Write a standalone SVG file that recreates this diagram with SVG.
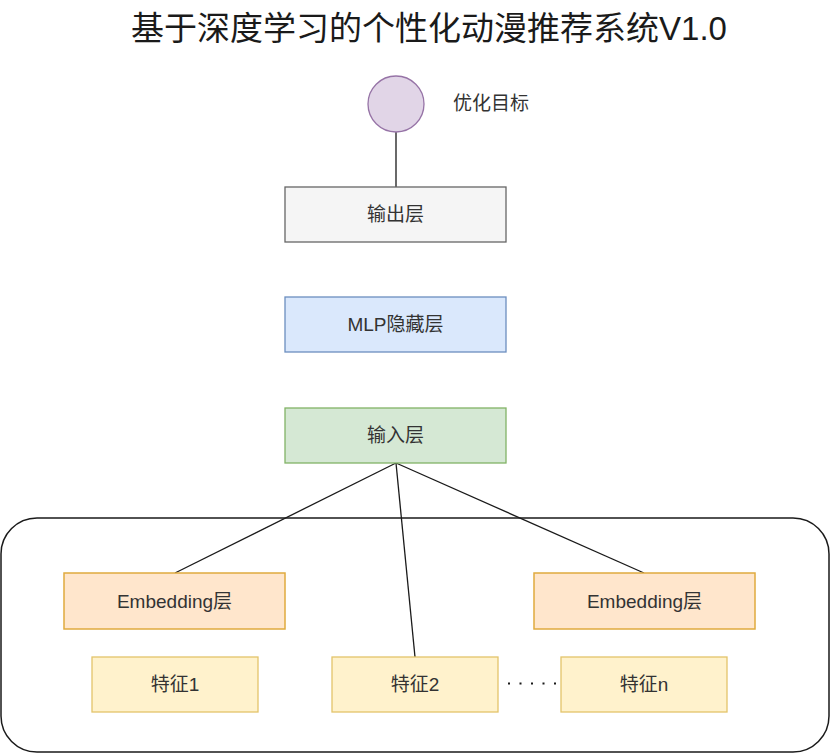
<svg xmlns="http://www.w3.org/2000/svg" width="831" height="755" viewBox="0 0 831 755">
<style>
.t{font-family:"Liberation Sans","Noto Sans CJK SC",sans-serif;fill:#333333;text-anchor:middle;font-size:19px}
.title{font-family:"Liberation Sans","Noto Sans CJK SC",sans-serif;fill:#1a1a1a;text-anchor:middle;font-size:33px}
.c{stroke:#1a1a1a;stroke-width:1.3;fill:none}
.gray{fill:#f5f5f5;stroke:#666666;stroke-width:1.3}
.blue{fill:#dae8fc;stroke:#6c8ebf;stroke-width:1.3}
.green{fill:#d5e8d4;stroke:#82b366;stroke-width:1.3}
.emb{fill:#ffe6cc;stroke:#e0aa3e;stroke-width:1.5}
.feat{fill:#fff2cc;stroke:#e3c46a;stroke-width:1.3}
</style>
<rect width="831" height="755" fill="#ffffff"/>
<text class="title" x="429" y="40">基于深度学习的个性化动漫推荐系统V1.0</text>
<g id="container"><rect x="1" y="518" width="828" height="234" rx="36" ry="36" fill="none" stroke="#1a1a1a" stroke-width="1.5"/></g>
<g id="connectors">
<line class="c" x1="396" y1="132" x2="396" y2="187"/>
<line class="c" x1="396" y1="463" x2="175" y2="573"/>
<line class="c" x1="396" y1="463" x2="415" y2="657"/>
<line class="c" x1="396" y1="463" x2="644" y2="573"/>
<line x1="508" y1="683.5" x2="556" y2="683.5" stroke="#1a1a1a" stroke-width="2" stroke-dasharray="2 9.5"/>
</g>
<g id="goal"><circle cx="396" cy="104" r="28" fill="#e1d5e7" stroke="#9673a6" stroke-width="1.3"/></g>
<g id="goal-label"><text class="t" x="491" y="110">优化目标</text></g>
<g id="output"><rect class="gray" x="285" y="187" width="221" height="55"/><text class="t" x="395.5" y="221">输出层</text></g>
<g id="mlp"><rect class="blue" x="285" y="297" width="221" height="55"/><text class="t" x="395.5" y="331">MLP隐藏层</text></g>
<g id="input"><rect class="green" x="285" y="408" width="221" height="55"/><text class="t" x="395.5" y="442">输入层</text></g>
<g id="emb1"><rect class="emb" x="64" y="573" width="221" height="56"/><text class="t" x="174.5" y="608">Embedding层</text></g>
<g id="emb2"><rect class="emb" x="534" y="573" width="221" height="56"/><text class="t" x="644.5" y="608">Embedding层</text></g>
<g id="f1"><rect class="feat" x="92" y="657" width="166" height="55"/><text class="t" x="175" y="691">特征1</text></g>
<g id="f2"><rect class="feat" x="332" y="657" width="166" height="55"/><text class="t" x="415" y="691">特征2</text></g>
<g id="fn"><rect class="feat" x="561" y="657" width="166" height="55"/><text class="t" x="644" y="691">特征n</text></g>
</svg>
